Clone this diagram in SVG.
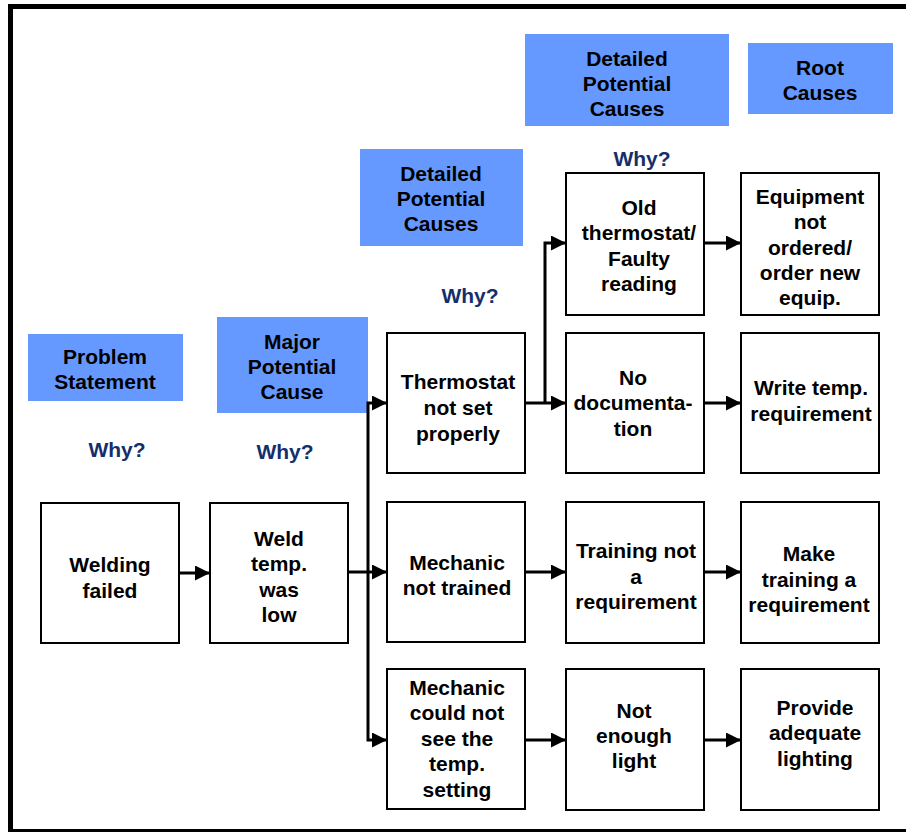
<svg xmlns="http://www.w3.org/2000/svg" width="906" height="832" viewBox="0 0 906 832">
  <style>
    .box { fill: #ffffff; stroke: #000000; stroke-width: 2; }
    .hdr { fill: #6699ff; }
    .t { font-family: "Liberation Sans", Arial, sans-serif; font-weight: bold; font-size: 21px; fill: #000000; text-anchor: middle; dominant-baseline: central; }
    .why { font-family: "Liberation Sans", Arial, sans-serif; font-weight: bold; font-size: 21px; fill: #142f6c; text-anchor: middle; dominant-baseline: central; }
    .conn { fill: none; stroke: #000000; stroke-width: 3; marker-end: url(#arrow); }
  </style>
  <defs>
    <marker id="arrow" markerUnits="userSpaceOnUse" markerWidth="16" markerHeight="16" refX="15" refY="7.5" orient="auto">
      <path d="M0,0 L15,7.5 L0,15 Z" fill="#000000"/>
    </marker>
  </defs>

  <rect x="0" y="0" width="906" height="832" fill="#ffffff"/>

  <!-- frame -->
  <g id="frame" stroke="#000000" fill="none">
    <line x1="8" y1="6.5" x2="906" y2="6.5" stroke-width="5"/>
    <line x1="10.5" y1="4" x2="10.5" y2="832" stroke-width="5"/>
    <line x1="8" y1="830.5" x2="906" y2="830.5" stroke-width="3"/>
  </g>

  <!-- column headers -->
  <g id="hdr-problem">
    <rect class="hdr" x="28" y="334" width="155" height="67"/>
    <text class="t" x="105" y="356">Problem</text>
    <text class="t" x="105" y="381">Statement</text>
  </g>
  <g id="hdr-major">
    <rect class="hdr" x="217" y="317" width="151" height="96"/>
    <text class="t" x="292" y="341">Major</text>
    <text class="t" x="292" y="366">Potential</text>
    <text class="t" x="292" y="391">Cause</text>
  </g>
  <g id="hdr-detailed-1">
    <rect class="hdr" x="360" y="149" width="163" height="97"/>
    <text class="t" x="441" y="173">Detailed</text>
    <text class="t" x="441" y="198">Potential</text>
    <text class="t" x="441" y="223">Causes</text>
  </g>
  <g id="hdr-detailed-2">
    <rect class="hdr" x="525" y="34" width="204" height="92"/>
    <text class="t" x="627" y="58">Detailed</text>
    <text class="t" x="627" y="83">Potential</text>
    <text class="t" x="627" y="108">Causes</text>
  </g>
  <g id="hdr-root">
    <rect class="hdr" x="748" y="43" width="145" height="71"/>
    <text class="t" x="820" y="67">Root</text>
    <text class="t" x="820" y="92">Causes</text>
  </g>

  <!-- why labels -->
  <g id="why-labels">
    <text class="why" x="117" y="449">Why?</text>
    <text class="why" x="285" y="451">Why?</text>
    <text class="why" x="470" y="295">Why?</text>
    <text class="why" x="642" y="158">Why?</text>
  </g>

  <!-- connectors -->
  <g id="connectors">
    <path class="conn" d="M179,573 H210"/>
    <path class="conn" d="M348,572 H387"/>
    <path class="conn" d="M368,572 V403 H387"/>
    <path class="conn" d="M368,572 V740 H387"/>
    <path class="conn" d="M525,403 H566"/>
    <path class="conn" d="M545,403 V243 H566"/>
    <path class="conn" d="M704,243 H741"/>
    <path class="conn" d="M704,403 H741"/>
    <path class="conn" d="M525,572 H566"/>
    <path class="conn" d="M704,572 H741"/>
    <path class="conn" d="M525,740 H566"/>
    <path class="conn" d="M704,740 H741"/>
  </g>

  <!-- column 1 -->
  <g id="welding-failed">
    <rect class="box" x="41" y="503" width="138" height="140"/>
    <text class="t" x="110" y="564">Welding</text>
    <text class="t" x="110" y="590">failed</text>
  </g>

  <!-- column 2 -->
  <g id="weld-temp-low">
    <rect class="box" x="210" y="503" width="138" height="140"/>
    <text class="t" x="279" y="538">Weld</text>
    <text class="t" x="279" y="563">temp.</text>
    <text class="t" x="279" y="589">was</text>
    <text class="t" x="279" y="614">low</text>
  </g>

  <!-- column 3 -->
  <g id="thermostat-not-set">
    <rect class="box" x="387" y="333" width="138" height="140"/>
    <text class="t" x="458" y="381">Thermostat</text>
    <text class="t" x="458" y="407">not set</text>
    <text class="t" x="458" y="433">properly</text>
  </g>
  <g id="mechanic-not-trained">
    <rect class="box" x="387" y="502" width="138" height="140"/>
    <text class="t" x="457" y="562">Mechanic</text>
    <text class="t" x="457" y="587">not trained</text>
  </g>
  <g id="mechanic-could-not-see">
    <rect class="box" x="387" y="669" width="138" height="140"/>
    <text class="t" x="457" y="687">Mechanic</text>
    <text class="t" x="457" y="712">could not</text>
    <text class="t" x="457" y="738">see the</text>
    <text class="t" x="457" y="763">temp.</text>
    <text class="t" x="457" y="789">setting</text>
  </g>

  <!-- column 4 -->
  <g id="old-thermostat">
    <rect class="box" x="566" y="173" width="138" height="142"/>
    <text class="t" x="639" y="207">Old</text>
    <text class="t" x="639" y="232">thermostat/</text>
    <text class="t" x="639" y="258">Faulty</text>
    <text class="t" x="639" y="283">reading</text>
  </g>
  <g id="no-documentation">
    <rect class="box" x="566" y="333" width="138" height="140"/>
    <text class="t" x="633" y="377">No</text>
    <text class="t" x="633" y="402">documenta-</text>
    <text class="t" x="633" y="428">tion</text>
  </g>
  <g id="training-not-requirement">
    <rect class="box" x="566" y="502" width="138" height="141"/>
    <text class="t" x="636" y="550">Training not</text>
    <text class="t" x="636" y="576">a</text>
    <text class="t" x="636" y="601">requirement</text>
  </g>
  <g id="not-enough-light">
    <rect class="box" x="566" y="669" width="138" height="141"/>
    <text class="t" x="634" y="710">Not</text>
    <text class="t" x="634" y="735">enough</text>
    <text class="t" x="634" y="760">light</text>
  </g>

  <!-- column 5 -->
  <g id="equipment-not-ordered">
    <rect class="box" x="741" y="173" width="138" height="142"/>
    <text class="t" x="810" y="196">Equipment</text>
    <text class="t" x="810" y="221">not</text>
    <text class="t" x="810" y="247">ordered/</text>
    <text class="t" x="810" y="272">order new</text>
    <text class="t" x="810" y="297">equip.</text>
  </g>
  <g id="write-temp-requirement">
    <rect class="box" x="741" y="333" width="138" height="140"/>
    <text class="t" x="811" y="387">Write temp.</text>
    <text class="t" x="811" y="413">requirement</text>
  </g>
  <g id="make-training-requirement">
    <rect class="box" x="741" y="502" width="138" height="141"/>
    <text class="t" x="809" y="553">Make</text>
    <text class="t" x="809" y="579">training a</text>
    <text class="t" x="809" y="604">requirement</text>
  </g>
  <g id="provide-lighting">
    <rect class="box" x="741" y="669" width="138" height="141"/>
    <text class="t" x="815" y="707">Provide</text>
    <text class="t" x="815" y="732">adequate</text>
    <text class="t" x="815" y="758">lighting</text>
  </g>
</svg>
